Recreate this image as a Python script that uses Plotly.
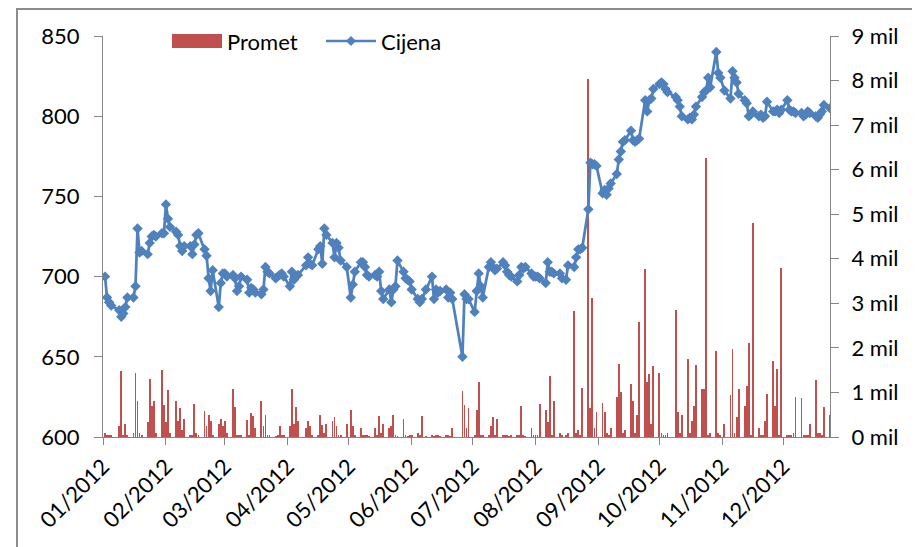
import pandas as pd
import plotly.graph_objects as go

# Trading-day prices (Cijena) per month, 2012
price_jan = [700, 687, 684, 682, 679, 675, 677, 681, 687, 687, 694, 730, 715, 716, 714, 721, 725, 726, 725, 727, 727]
price_feb = [745, 736, 731, 728, 726, 719, 716, 719, 719, 714, 720, 726, 727, 717, 713, 699, 691, 704, 681, 696, 702]
price_mar = [702, 700, 701, 699, 691, 694, 700, 698, 690, 693, 692, 690, 689, 692, 706, 703, 702, 699, 700, 701, 702, 700]
price_apr = [694, 703, 698, 700, 701, 707, 712, 708, 707, 717, 719, 708, 730, 726, 721, 712, 721, 718, 710, 706]
price_may = [687, 695, 703, 709, 709, 706, 701, 700, 701, 700, 703, 691, 686, 692, 684, 692, 694, 710, 703, 699, 698, 697]
price_jun = [692, 686, 684, 686, 692, 700, 686, 692, 690, 691, 692, 687, 690, 686, 650, 689, 686, 686]
price_jul = [678, 691, 702, 694, 687, 706, 709, 706, 704, 705, 709, 707, 703, 701, 700, 697, 701, 706, 705, 706, 702, 700]
price_aug = [700, 700, 699, 696, 709, 703, 703, 702, 702, 699, 698, 707, 706, 712, 717, 717, 718, 742, 771, 770, 770, 769]
price_sep = [752, 754, 751, 755, 758, 764, 773, 778, 784, 785, 791, 785, 784, 785, 786, 810, 803, 810, 811, 817]
price_oct = [820, 821, 820, 817, 815, 812, 810, 806, 800, 798, 799, 798, 801, 806, 812, 815, 816, 824, 818, 840, 827, 824]
price_nov = [816, 811, 828, 824, 821, 814, 810, 808, 800, 801, 803, 800, 801, 799, 800, 809, 803, 803, 804, 802, 804]
price_dec = [810, 804, 803, 803, 802, 802, 800, 801, 803, 802, 800, 799, 801, 803, 807, 805]

# Trading-day turnover (Promet), millions
vol_jan = [0.1, 0.05, 0.03, 0.05, 0.25, 1.48, 0.05, 0.3, 0.05, 0.1, 1.43, 0.8, 0.1, 0.05, 0.34, 1.3, 0.7, 0.8, 0.1, 1.5, 0.72]
vol_feb = [0.34, 1.06, 0.1, 0.8, 0.37, 0.65, 0.15, 0.4, 0.05, 0.03, 0.75, 0.1, 0.05, 0.58, 0.25, 0.5, 0.35, 0.05, 0.3, 0.4, 0.25]
vol_mar = [0.35, 0.1, 1.07, 0.67, 0.05, 0.03, 0.05, 0.38, 0.05, 0.54, 0.47, 0.2, 0.8, 0.25, 0.5, 0.05, 0.05, 0.02, 0.05, 0.25, 0.05, 0.05]
vol_apr = [0.25, 1.07, 0.3, 0.67, 0.35, 0.2, 0.37, 0.25, 0.03, 0.05, 0.5, 0.27, 0.1, 0.3, 0.37, 0.44, 0.25, 0.05, 0.03, 0.3]
vol_may = [0.6, 0.25, 0.05, 0.2, 0.05, 0.03, 0.05, 0.02, 0.2, 0.05, 0.47, 0.1, 0.3, 0.2, 0.25, 0.5, 0.03, 0.02, 0.4, 0.03, 0.02, 0.03]
vol_jun = [0.03, 0.1, 0.03, 0.47, 0.02, 0.03, 0.02, 0.03, 0.03, 0.02, 0.03, 0.03, 0.02, 0.2, 1.04, 0.72, 0.2, 0.65]
vol_jul = [0.05, 0.6, 1.23, 0.05, 0.05, 0.03, 0.25, 0.44, 0.05, 0.4, 0.05, 0.03, 0.05, 0.02, 0.03, 0.03, 0.03, 0.7, 0.03, 0.02, 0.2, 0.03]
vol_aug = [0.03, 0.05, 0.74, 0.6, 0.34, 1.37, 0.05, 0.8, 0.1, 0.05, 0.05, 0.1, 2.82, 0.1, 0.15, 0.05, 1.09, 8.04, 0.65, 3.12, 0.2, 0.55]
vol_sep = [0.77, 0.55, 0.1, 0.05, 0.2, 0.9, 1.64, 1.02, 0.1, 0.15, 1.2, 0.8, 0.1, 0.5, 2.59, 3.77, 1.24, 1.42, 0.3, 1.6]
vol_oct = [1.43, 0.1, 0.05, 0.05, 0.1, 2.84, 0.56, 0.1, 0.5, 1.75, 0.1, 0.35, 0.7, 1.62, 1.07, 1.08, 6.26, 0.05, 0.1, 1.92, 0.1, 0.05]
vol_nov = [0.3, 0.94, 1.98, 0.1, 0.45, 1.07, 0.7, 1.15, 2.1, 0.05, 4.8, 0.2, 0.05, 0.05, 0.35, 0.97, 1.71, 0.7, 1.53, 0.05, 3.79]
vol_dec = [0.05, 0.03, 0.05, 0.1, 0.9, 0.87, 0.05, 0.03, 0.05, 0.3, 1.27, 0.1, 0.1, 0.05, 0.67, 0.5]

holidays = ["2012-01-06", "2012-04-09", "2012-05-01", "2012-06-07", "2012-06-22",
            "2012-06-25", "2012-08-15", "2012-10-08", "2012-11-01"]
dates = [d for d in pd.bdate_range("2012-01-02", "2012-12-24") if d.strftime("%Y-%m-%d") not in holidays]

price = (price_jan + price_feb + price_mar + price_apr + price_may + price_jun +
         price_jul + price_aug + price_sep + price_oct + price_nov + price_dec)
volume = (vol_jan + vol_feb + vol_mar + vol_apr + vol_may + vol_jun +
          vol_jul + vol_aug + vol_sep + vol_oct + vol_nov + vol_dec)

n = min(len(dates), len(price), len(volume))
dates, price, volume = dates[:n], price[:n], volume[:n]

FONT = "Lato, Carlito, Arial, sans-serif"
AXIS = "#868686"
RED = "#C0504D"
BLUE = "#4F81BD"
FS = 22

fig = go.Figure()
fig.add_trace(go.Bar(
    x=dates, y=volume, name="Promet", yaxis="y",
    marker=dict(color=RED, line=dict(width=0)),
    width=0.42 * 86400000, showlegend=False,
))
fig.add_trace(go.Scatter(
    x=dates, y=price, name="Cijena", yaxis="y2", mode="lines+markers",
    line=dict(color=BLUE, width=2.75),
    marker=dict(symbol="diamond", size=8, color=BLUE),
    showlegend=False,
))

# page has an 8px body margin; screen plot area: x 103..830, y 36..437
OFF = 8
L, R, T, B = 103 - OFF, 830 - OFF, 36 - OFF, 437 - OFF
def px(sx):
    return (sx - OFF - L) / (R - L)
def py(sy):
    return (B - (sy - OFF)) / (B - T)

shapes = [
    # chart border (top and left)
    dict(type="line", xref="paper", yref="paper", x0=px(16), x1=px(940), y0=py(9), y1=py(9),
         line=dict(color="#8C8C8C", width=2)),
    dict(type="line", xref="paper", yref="paper", x0=px(17), x1=px(17), y0=py(9), y1=py(570),
         line=dict(color="#8C8C8C", width=2)),
    # legend: Promet swatch
    dict(type="rect", xref="paper", yref="paper", x0=px(172), x1=px(222), y0=py(48), y1=py(34),
         fillcolor=RED, line=dict(width=0)),
    # legend: Cijena line + diamond
    dict(type="line", xref="paper", yref="paper", x0=px(326), x1=px(376), y0=py(41), y1=py(41),
         line=dict(color=BLUE, width=2.5)),
    dict(type="path", xref="paper", yref="paper",
         path=f"M {px(351)},{py(36.5)} L {px(355.5)},{py(41)} L {px(351)},{py(45.5)} L {px(346.5)},{py(41)} Z",
         fillcolor=BLUE, line=dict(color=BLUE, width=1)),
]
annotations = [
    dict(xref="paper", yref="paper", x=px(225), y=py(41), text="Promet", showarrow=False,
         xanchor="left", yanchor="middle", font=dict(size=FS)),
    dict(xref="paper", yref="paper", x=px(379), y=py(41), text="Cijena", showarrow=False,
         xanchor="left", yanchor="middle", font=dict(size=FS)),
]

fig.update_layout(
    width=920, height=547,
    margin=dict(l=L, r=920 - R, t=T, b=547 - B, autoexpand=False),
    paper_bgcolor="white", plot_bgcolor="white",
    font=dict(family=FONT, size=FS, color="#000000"),
    showlegend=False,
    bargap=0,
    shapes=shapes,
    annotations=annotations,
    xaxis=dict(
        type="date", range=["2012-01-01", "2012-12-24"], automargin=False,
        tick0="2012-01-01", dtick="M1", tickformat="%m/%Y", tickangle=-45,
        showgrid=False, zeroline=False,
        showline=True, linecolor=AXIS, linewidth=1,
        ticks="outside", ticklen=7, tickcolor=AXIS,
        tickfont=dict(size=FS),
    ),
    yaxis=dict(
        range=[0, 9], side="right", dtick=1, ticksuffix=" mil", automargin=False,
        showgrid=False, zeroline=False,
        showline=True, linecolor=AXIS, linewidth=1,
        ticks="outside", ticklen=8, tickcolor=AXIS, ticklabelstandoff=8,
        tickfont=dict(size=FS),
    ),
    yaxis2=dict(
        range=[600, 850], side="left", overlaying="y", dtick=50, automargin=False,
        showgrid=False, zeroline=False,
        showline=True, linecolor=AXIS, linewidth=1,
        ticks="outside", ticklen=8, tickcolor=AXIS, ticklabelstandoff=10,
        tickfont=dict(size=FS),
    ),
)

fig.write_html("out.html")
